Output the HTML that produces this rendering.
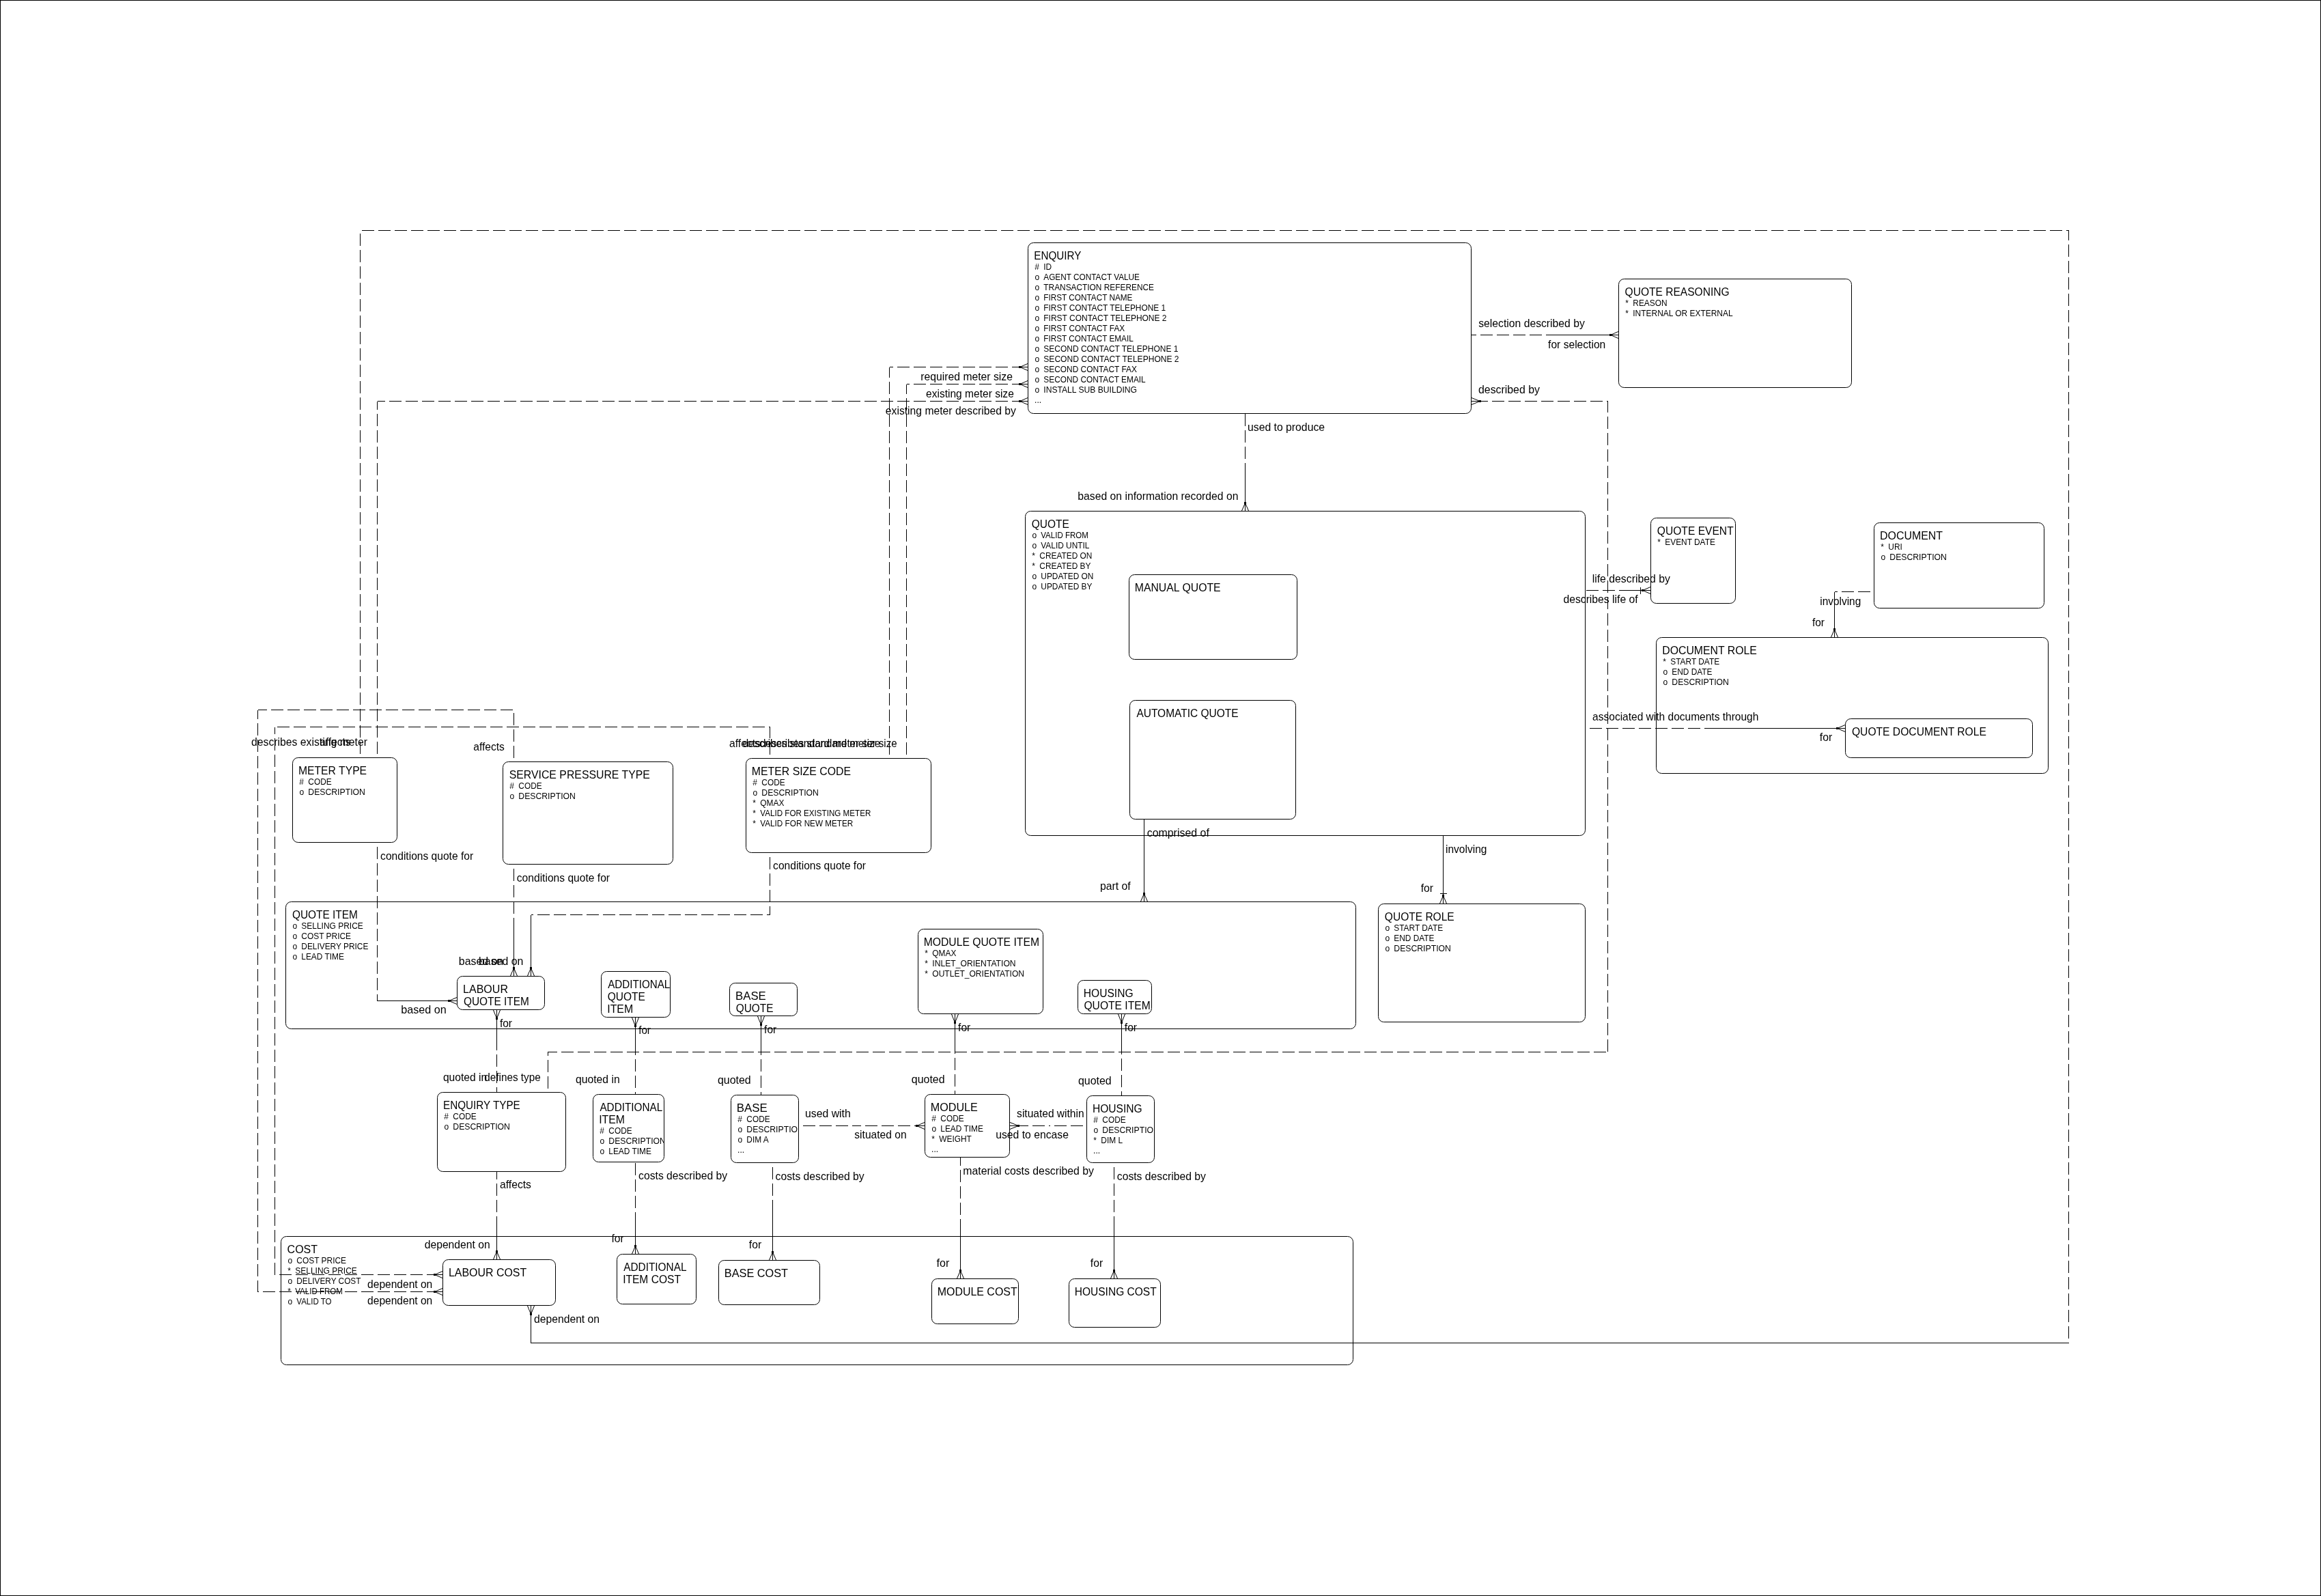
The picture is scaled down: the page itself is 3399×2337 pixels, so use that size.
<!DOCTYPE html>
<html><head><meta charset="utf-8"><title>ER diagram</title>
<style>
html,body{margin:0;padding:0;background:#fff}
svg{display:block;will-change:transform}
text{font-family:"Liberation Sans",sans-serif;fill:#000;white-space:pre}
.t{font-size:16px}
.a{font-size:12px}
rect,path{fill:none;stroke:#000;stroke-width:1}
path{shape-rendering:crispEdges}
.d{stroke-dasharray:18 6;stroke-dashoffset:18}
.c{shape-rendering:auto}
.dot{fill:#000;stroke:none}
.n{stroke:none}
</style></head><body>
<svg width="3399" height="2337" viewBox="0 0 3399 2337">
<rect x="0.5" y="0.5" width="3398" height="2336"/>
<g class="bx">
<rect x="1505.5" y="355.5" width="649" height="250" rx="8" ry="8"/>
<clipPath id="cENQ"><rect class="n" x="1506" y="356" width="648" height="249"/></clipPath><g clip-path="url(#cENQ)">
<text class="t" transform="translate(1514.26 380) scale(0.9507 1)">ENQUIRY</text>
<text class="a" transform="translate(1515.2 395) scale(1 1)">#</text>
<text class="a" transform="translate(1528.3 395) scale(0.992 1)">ID</text>
<text class="a" transform="translate(1515.6 410) scale(1 1)">o</text>
<text class="a" transform="translate(1528.3 410) scale(0.9839 1)">AGENT CONTACT VALUE</text>
<text class="a" transform="translate(1515.6 425) scale(1 1)">o</text>
<text class="a" transform="translate(1528.3 425) scale(0.9902 1)">TRANSACTION REFERENCE</text>
<text class="a" transform="translate(1515.6 440) scale(1 1)">o</text>
<text class="a" transform="translate(1528.3 440) scale(0.9817 1)">FIRST CONTACT NAME</text>
<text class="a" transform="translate(1515.6 455) scale(1 1)">o</text>
<text class="a" transform="translate(1528.3 455) scale(0.9916 1)">FIRST CONTACT TELEPHONE 1</text>
<text class="a" transform="translate(1515.6 470) scale(1 1)">o</text>
<text class="a" transform="translate(1528.3 470) scale(0.9994 1)">FIRST CONTACT TELEPHONE 2</text>
<text class="a" transform="translate(1515.6 485) scale(1 1)">o</text>
<text class="a" transform="translate(1528.3 485) scale(0.9858 1)">FIRST CONTACT FAX</text>
<text class="a" transform="translate(1515.6 500) scale(1 1)">o</text>
<text class="a" transform="translate(1528.3 500) scale(0.9819 1)">FIRST CONTACT EMAIL</text>
<text class="a" transform="translate(1515.6 515) scale(1 1)">o</text>
<text class="a" transform="translate(1528.3 515) scale(0.9995 1)">SECOND CONTACT TELEPHONE 1</text>
<text class="a" transform="translate(1515.6 530) scale(1 1)">o</text>
<text class="a" transform="translate(1528.3 530) scale(1.0066 1)">SECOND CONTACT TELEPHONE 2</text>
<text class="a" transform="translate(1515.6 545) scale(1 1)">o</text>
<text class="a" transform="translate(1528.3 545) scale(0.9949 1)">SECOND CONTACT FAX</text>
<text class="a" transform="translate(1515.6 560) scale(1 1)">o</text>
<text class="a" transform="translate(1528.3 560) scale(0.9907 1)">SECOND CONTACT EMAIL</text>
<text class="a" transform="translate(1515.6 575) scale(1 1)">o</text>
<text class="a" transform="translate(1528.3 575) scale(1.0105 1)">INSTALL SUB BUILDING</text>
<text class="a" transform="translate(1515.1 590) scale(1 1)">...</text>
</g>
<rect x="2370.5" y="408.5" width="341" height="159" rx="8" ry="8"/>
<clipPath id="cQR"><rect class="n" x="2371" y="409" width="340" height="158"/></clipPath><g clip-path="url(#cQR)">
<text class="t" transform="translate(2379.62 433) scale(0.973 1)">QUOTE REASONING</text>
<text class="a" transform="translate(2380.3 448) scale(1 1)">*</text>
<text class="a" transform="translate(2391.3 448) scale(0.992 1)">REASON</text>
<text class="a" transform="translate(2380.3 463) scale(1 1)">*</text>
<text class="a" transform="translate(2391.3 463) scale(0.9959 1)">INTERNAL OR EXTERNAL</text>
</g>
<rect x="1501.5" y="748.5" width="820" height="475" rx="8" ry="8"/>
<clipPath id="cQ"><rect class="n" x="1502" y="749" width="819" height="474"/></clipPath><g clip-path="url(#cQ)">
<text class="t" transform="translate(1510.72 773) scale(0.9676 1)">QUOTE</text>
<text class="a" transform="translate(1511.6 788) scale(1 1)">o</text>
<text class="a" transform="translate(1524.3 788) scale(0.9609 1)">VALID FROM</text>
<text class="a" transform="translate(1511.6 803) scale(1 1)">o</text>
<text class="a" transform="translate(1524.3 803) scale(0.992 1)">VALID UNTIL</text>
<text class="a" transform="translate(1511.3 818) scale(1 1)">*</text>
<text class="a" transform="translate(1522.3 818) scale(0.992 1)">CREATED ON</text>
<text class="a" transform="translate(1511.3 833) scale(1 1)">*</text>
<text class="a" transform="translate(1522.3 833) scale(0.992 1)">CREATED BY</text>
<text class="a" transform="translate(1511.6 848) scale(1 1)">o</text>
<text class="a" transform="translate(1524.3 848) scale(0.992 1)">UPDATED ON</text>
<text class="a" transform="translate(1511.6 863) scale(1 1)">o</text>
<text class="a" transform="translate(1524.3 863) scale(0.992 1)">UPDATED BY</text>
</g>
<rect x="1653.5" y="841.5" width="246" height="124" rx="8" ry="8"/>
<clipPath id="cMQ"><rect class="n" x="1654" y="842" width="245" height="123"/></clipPath><g clip-path="url(#cMQ)">
<text class="t" transform="translate(1661.71 866) scale(0.9888 1)">MANUAL QUOTE</text>
</g>
<rect x="1654.5" y="1025.5" width="243" height="174" rx="8" ry="8"/>
<clipPath id="cAQ"><rect class="n" x="1655" y="1026" width="242" height="173"/></clipPath><g clip-path="url(#cAQ)">
<text class="t" transform="translate(1664.4 1050) scale(0.9687 1)">AUTOMATIC QUOTE</text>
</g>
<rect x="2417.5" y="758.5" width="124" height="125" rx="8" ry="8"/>
<clipPath id="cQE"><rect class="n" x="2418" y="759" width="123" height="124"/></clipPath><g clip-path="url(#cQE)">
<text class="t" transform="translate(2426.82 783) scale(0.9763 1)">QUOTE EVENT</text>
<text class="a" transform="translate(2427.3 798) scale(1 1)">*</text>
<text class="a" transform="translate(2438.3 798) scale(0.992 1)">EVENT DATE</text>
</g>
<rect x="2744.5" y="765.5" width="249" height="125" rx="8" ry="8"/>
<clipPath id="cDOC"><rect class="n" x="2745" y="766" width="248" height="124"/></clipPath><g clip-path="url(#cDOC)">
<text class="t" transform="translate(2753 790) scale(0.9967 1)">DOCUMENT</text>
<text class="a" transform="translate(2754.3 805) scale(1 1)">*</text>
<text class="a" transform="translate(2765.3 805) scale(0.992 1)">URI</text>
<text class="a" transform="translate(2754.6 820) scale(1 1)">o</text>
<text class="a" transform="translate(2767.3 820) scale(1.02 1)">DESCRIPTION</text>
</g>
<rect x="2425.5" y="933.5" width="574" height="199" rx="8" ry="8"/>
<clipPath id="cDR"><rect class="n" x="2426" y="934" width="573" height="198"/></clipPath><g clip-path="url(#cDR)">
<text class="t" transform="translate(2434.21 958) scale(0.9899 1)">DOCUMENT ROLE</text>
<text class="a" transform="translate(2435.3 973) scale(1 1)">*</text>
<text class="a" transform="translate(2446.3 973) scale(0.992 1)">START DATE</text>
<text class="a" transform="translate(2435.6 988) scale(1 1)">o</text>
<text class="a" transform="translate(2448.3 988) scale(0.992 1)">END DATE</text>
<text class="a" transform="translate(2435.6 1003) scale(1 1)">o</text>
<text class="a" transform="translate(2448.3 1003) scale(1.02 1)">DESCRIPTION</text>
</g>
<rect x="2702.5" y="1052.5" width="274" height="57" rx="8" ry="8"/>
<clipPath id="cQDR"><rect class="n" x="2703" y="1053" width="273" height="56"/></clipPath><g clip-path="url(#cQDR)">
<text class="t" transform="translate(2711.92 1077) scale(0.9785 1)">QUOTE DOCUMENT ROLE</text>
</g>
<rect x="428.5" y="1109.5" width="153" height="124" rx="8" ry="8"/>
<clipPath id="cMT"><rect class="n" x="429" y="1110" width="152" height="123"/></clipPath><g clip-path="url(#cMT)">
<text class="t" transform="translate(436.92 1134) scale(0.983 1)">METER TYPE</text>
<text class="a" transform="translate(438.2 1149) scale(1 1)">#</text>
<text class="a" transform="translate(451.3 1149) scale(0.992 1)">CODE</text>
<text class="a" transform="translate(438.6 1164) scale(1 1)">o</text>
<text class="a" transform="translate(451.3 1164) scale(1.02 1)">DESCRIPTION</text>
</g>
<rect x="736.5" y="1115.5" width="249" height="150" rx="8" ry="8"/>
<clipPath id="cSPT"><rect class="n" x="737" y="1116" width="248" height="149"/></clipPath><g clip-path="url(#cSPT)">
<text class="t" transform="translate(745.71 1140) scale(0.9908 1)">SERVICE PRESSURE TYPE</text>
<text class="a" transform="translate(746.2 1155) scale(1 1)">#</text>
<text class="a" transform="translate(759.3 1155) scale(0.992 1)">CODE</text>
<text class="a" transform="translate(746.6 1170) scale(1 1)">o</text>
<text class="a" transform="translate(759.3 1170) scale(1.02 1)">DESCRIPTION</text>
</g>
<rect x="1092.5" y="1110.5" width="271" height="138" rx="8" ry="8"/>
<clipPath id="cMSC"><rect class="n" x="1093" y="1111" width="270" height="137"/></clipPath><g clip-path="url(#cMSC)">
<text class="t" transform="translate(1100.81 1135) scale(0.991 1)">METER SIZE CODE</text>
<text class="a" transform="translate(1102.2 1150) scale(1 1)">#</text>
<text class="a" transform="translate(1115.3 1150) scale(0.992 1)">CODE</text>
<text class="a" transform="translate(1102.6 1165) scale(1 1)">o</text>
<text class="a" transform="translate(1115.3 1165) scale(1.02 1)">DESCRIPTION</text>
<text class="a" transform="translate(1102.3 1180) scale(1 1)">*</text>
<text class="a" transform="translate(1113.3 1180) scale(0.992 1)">QMAX</text>
<text class="a" transform="translate(1102.3 1195) scale(1 1)">*</text>
<text class="a" transform="translate(1113.3 1195) scale(0.97 1)">VALID FOR EXISTING METER</text>
<text class="a" transform="translate(1102.3 1210) scale(1 1)">*</text>
<text class="a" transform="translate(1113.3 1210) scale(0.9791 1)">VALID FOR NEW METER</text>
</g>
<rect x="418.5" y="1320.5" width="1567" height="186" rx="8" ry="8"/>
<clipPath id="cQI"><rect class="n" x="419" y="1321" width="1566" height="185"/></clipPath><g clip-path="url(#cQI)">
<text class="t" transform="translate(427.93 1345) scale(0.9641 1)">QUOTE ITEM</text>
<text class="a" transform="translate(428.6 1360) scale(1 1)">o</text>
<text class="a" transform="translate(441.3 1360) scale(0.9989 1)">SELLING PRICE</text>
<text class="a" transform="translate(428.6 1375) scale(1 1)">o</text>
<text class="a" transform="translate(441.3 1375) scale(0.9958 1)">COST PRICE</text>
<text class="a" transform="translate(428.6 1390) scale(1 1)">o</text>
<text class="a" transform="translate(441.3 1390) scale(0.992 1)">DELIVERY PRICE</text>
<text class="a" transform="translate(428.6 1405) scale(1 1)">o</text>
<text class="a" transform="translate(441.3 1405) scale(0.992 1)">LEAD TIME</text>
</g>
<rect x="669.5" y="1429.5" width="128" height="49" rx="8" ry="8"/>
<clipPath id="cLQI"><rect class="n" x="670" y="1430" width="127" height="48"/></clipPath><g clip-path="url(#cLQI)">
<text class="t" transform="translate(678.1 1454) scale(1.0016 1)">LABOUR</text>
<text class="t" transform="translate(678.93 1472) scale(0.9641 1)">QUOTE ITEM</text>
</g>
<rect x="880.5" y="1422.5" width="101" height="67" rx="8" ry="8"/>
<clipPath id="cAQI"><rect class="n" x="881" y="1423" width="100" height="66"/></clipPath><g clip-path="url(#cAQI)">
<text class="t" transform="translate(890.2 1447) scale(0.9487 1)">ADDITIONAL</text>
<text class="t" transform="translate(889.72 1465) scale(0.9712 1)">QUOTE</text>
<text class="t" transform="translate(889.21 1483) scale(0.9944 1)">ITEM</text>
</g>
<rect x="1068.5" y="1439.5" width="99" height="48" rx="8" ry="8"/>
<clipPath id="cBQ"><rect class="n" x="1069" y="1440" width="98" height="47"/></clipPath><g clip-path="url(#cBQ)">
<text class="t" transform="translate(1077.04 1464) scale(1.0491 1)">BASE</text>
<text class="t" transform="translate(1077.73 1482) scale(0.9622 1)">QUOTE</text>
</g>
<rect x="1344.5" y="1360.5" width="183" height="124" rx="8" ry="8"/>
<clipPath id="cMQI"><rect class="n" x="1345" y="1361" width="182" height="123"/></clipPath><g clip-path="url(#cMQI)">
<text class="t" transform="translate(1352.72 1385) scale(0.9823 1)">MODULE QUOTE ITEM</text>
<text class="a" transform="translate(1354.3 1400) scale(1 1)">*</text>
<text class="a" transform="translate(1365.3 1400) scale(0.992 1)">QMAX</text>
<text class="a" transform="translate(1354.3 1415) scale(1 1)">*</text>
<text class="a" transform="translate(1365.3 1415) scale(1.0126 1)">INLET_ORIENTATION</text>
<text class="a" transform="translate(1354.3 1430) scale(1 1)">*</text>
<text class="a" transform="translate(1365.3 1430) scale(1.0045 1)">OUTLET_ORIENTATION</text>
</g>
<rect x="1578.5" y="1435.5" width="108" height="49" rx="8" ry="8"/>
<clipPath id="cHQI"><rect class="n" x="1579" y="1436" width="107" height="48"/></clipPath><g clip-path="url(#cHQI)">
<text class="t" transform="translate(1586.83 1460) scale(0.9737 1)">HOUSING</text>
<text class="t" transform="translate(1587.42 1478) scale(0.9785 1)">QUOTE ITEM</text>
</g>
<rect x="2018.5" y="1323.5" width="303" height="173" rx="8" ry="8"/>
<clipPath id="cQRO"><rect class="n" x="2019" y="1324" width="302" height="172"/></clipPath><g clip-path="url(#cQRO)">
<text class="t" transform="translate(2027.82 1348) scale(0.972 1)">QUOTE ROLE</text>
<text class="a" transform="translate(2028.6 1363) scale(1 1)">o</text>
<text class="a" transform="translate(2041.3 1363) scale(0.992 1)">START DATE</text>
<text class="a" transform="translate(2028.6 1378) scale(1 1)">o</text>
<text class="a" transform="translate(2041.3 1378) scale(0.992 1)">END DATE</text>
<text class="a" transform="translate(2028.6 1393) scale(1 1)">o</text>
<text class="a" transform="translate(2041.3 1393) scale(1.02 1)">DESCRIPTION</text>
</g>
<rect x="640.5" y="1599.5" width="188" height="116" rx="8" ry="8"/>
<clipPath id="cET"><rect class="n" x="641" y="1600" width="187" height="115"/></clipPath><g clip-path="url(#cET)">
<text class="t" transform="translate(648.96 1624) scale(0.9544 1)">ENQUIRY TYPE</text>
<text class="a" transform="translate(650.2 1639) scale(1 1)">#</text>
<text class="a" transform="translate(663.3 1639) scale(0.992 1)">CODE</text>
<text class="a" transform="translate(650.6 1654) scale(1 1)">o</text>
<text class="a" transform="translate(663.3 1654) scale(1.02 1)">DESCRIPTION</text>
</g>
<rect x="868.5" y="1602.5" width="104" height="99" rx="8" ry="8"/>
<clipPath id="cAI"><rect class="n" x="869" y="1603" width="103" height="98"/></clipPath><g clip-path="url(#cAI)">
<text class="t" transform="translate(878.4 1627) scale(0.9571 1)">ADDITIONAL</text>
<text class="t" transform="translate(877.21 1645) scale(0.9916 1)">ITEM</text>
<text class="a" transform="translate(878.2 1660) scale(1 1)">#</text>
<text class="a" transform="translate(891.3 1660) scale(0.992 1)">CODE</text>
<text class="a" transform="translate(878.6 1675) scale(1 1)">o</text>
<text class="a" transform="translate(891.3 1675) scale(1.02 1)">DESCRIPTION</text>
<text class="a" transform="translate(878.6 1690) scale(1 1)">o</text>
<text class="a" transform="translate(891.3 1690) scale(0.992 1)">LEAD TIME</text>
</g>
<rect x="1070.5" y="1603.5" width="99" height="99" rx="8" ry="8"/>
<clipPath id="cBA"><rect class="n" x="1071" y="1604" width="98" height="98"/></clipPath><g clip-path="url(#cBA)">
<text class="t" transform="translate(1078.73 1628) scale(1.0565 1)">BASE</text>
<text class="a" transform="translate(1080.2 1643) scale(1 1)">#</text>
<text class="a" transform="translate(1093.3 1643) scale(0.992 1)">CODE</text>
<text class="a" transform="translate(1080.6 1658) scale(1 1)">o</text>
<text class="a" transform="translate(1093.3 1658) scale(1.02 1)">DESCRIPTION</text>
<text class="a" transform="translate(1080.6 1673) scale(1 1)">o</text>
<text class="a" transform="translate(1093.3 1673) scale(0.992 1)">DIM A</text>
<text class="a" transform="translate(1080.1 1688) scale(1 1)">...</text>
</g>
<rect x="1354.5" y="1602.5" width="124" height="92" rx="8" ry="8"/>
<clipPath id="cMO"><rect class="n" x="1355" y="1603" width="123" height="91"/></clipPath><g clip-path="url(#cMO)">
<text class="t" transform="translate(1362.69 1627) scale(1.0105 1)">MODULE</text>
<text class="a" transform="translate(1364.2 1642) scale(1 1)">#</text>
<text class="a" transform="translate(1377.3 1642) scale(0.992 1)">CODE</text>
<text class="a" transform="translate(1364.6 1657) scale(1 1)">o</text>
<text class="a" transform="translate(1377.3 1657) scale(0.992 1)">LEAD TIME</text>
<text class="a" transform="translate(1364.3 1672) scale(1 1)">*</text>
<text class="a" transform="translate(1375.3 1672) scale(0.992 1)">WEIGHT</text>
<text class="a" transform="translate(1364.1 1687) scale(1 1)">...</text>
</g>
<rect x="1591.5" y="1604.5" width="99" height="98" rx="8" ry="8"/>
<clipPath id="cHO"><rect class="n" x="1592" y="1605" width="98" height="97"/></clipPath><g clip-path="url(#cHO)">
<text class="t" transform="translate(1599.93 1629) scale(0.9737 1)">HOUSING</text>
<text class="a" transform="translate(1601.2 1644) scale(1 1)">#</text>
<text class="a" transform="translate(1614.3 1644) scale(0.992 1)">CODE</text>
<text class="a" transform="translate(1601.6 1659) scale(1 1)">o</text>
<text class="a" transform="translate(1614.3 1659) scale(1.02 1)">DESCRIPTION</text>
<text class="a" transform="translate(1601.3 1674) scale(1 1)">*</text>
<text class="a" transform="translate(1612.3 1674) scale(0.992 1)">DIM L</text>
<text class="a" transform="translate(1601.1 1689) scale(1 1)">...</text>
</g>
<rect x="411.5" y="1810.5" width="1570" height="188" rx="8" ry="8"/>
<clipPath id="cCO"><rect class="n" x="412" y="1811" width="1569" height="187"/></clipPath><g clip-path="url(#cCO)">
<text class="t" transform="translate(420.6 1835) scale(1.0 1)">COST</text>
<text class="a" transform="translate(421.6 1850) scale(1 1)">o</text>
<text class="a" transform="translate(434.3 1850) scale(0.9958 1)">COST PRICE</text>
<text class="a" transform="translate(421.3 1865) scale(1 1)">*</text>
<text class="a" transform="translate(432.3 1865) scale(0.9989 1)">SELLING PRICE</text>
<text class="a" transform="translate(421.6 1880) scale(1 1)">o</text>
<text class="a" transform="translate(434.3 1880) scale(0.9852 1)">DELIVERY COST</text>
<text class="a" transform="translate(421.3 1895) scale(1 1)">*</text>
<text class="a" transform="translate(432.3 1895) scale(0.9609 1)">VALID FROM</text>
<text class="a" transform="translate(421.6 1910) scale(1 1)">o</text>
<text class="a" transform="translate(434.3 1910) scale(0.9621 1)">VALID TO</text>
</g>
<rect x="648.5" y="1844.5" width="165" height="67" rx="8" ry="8"/>
<clipPath id="cLC"><rect class="n" x="649" y="1845" width="164" height="66"/></clipPath><g clip-path="url(#cLC)">
<text class="t" transform="translate(656.9 1869) scale(0.9965 1)">LABOUR COST</text>
</g>
<rect x="903.5" y="1836.5" width="116" height="73" rx="8" ry="8"/>
<clipPath id="cAIC"><rect class="n" x="904" y="1837" width="115" height="72"/></clipPath><g clip-path="url(#cAIC)">
<text class="t" transform="translate(913.3 1861) scale(0.9602 1)">ADDITIONAL</text>
<text class="t" transform="translate(912.14 1879) scale(0.9742 1)">ITEM COST</text>
</g>
<rect x="1052.5" y="1845.5" width="148" height="65" rx="8" ry="8"/>
<clipPath id="cBC"><rect class="n" x="1053" y="1846" width="147" height="64"/></clipPath><g clip-path="url(#cBC)">
<text class="t" transform="translate(1060.78 1870) scale(1.0189 1)">BASE COST</text>
</g>
<rect x="1364.5" y="1872.5" width="127" height="66" rx="8" ry="8"/>
<clipPath id="cMC"><rect class="n" x="1365" y="1873" width="126" height="65"/></clipPath><g clip-path="url(#cMC)">
<text class="t" transform="translate(1372.7 1897) scale(0.9974 1)">MODULE COST</text>
</g>
<rect x="1565.5" y="1872.5" width="134" height="71" rx="8" ry="8"/>
<clipPath id="cHC"><rect class="n" x="1566" y="1873" width="133" height="70"/></clipPath><g clip-path="url(#cHC)">
<text class="t" transform="translate(1573.74 1897) scale(0.9713 1)">HOUSING COST</text>
</g>
</g>
<g class="ln">
<path class="d" d="M1823.5 678 L1823.5 605.5"/>
<path d="M1823.5 748.5 L1823.5 678"/>
<path class="c" d="M1828.7 748.5 L1823.5 736.5 L1818.3 748.5"/>
<path d="M1823.5 748.5 L1823.5 736.5"/>
<rect class="dot" x="1822" y="735" width="3" height="3"/>
<path class="d" d="M2263.5 490.5 L2154.5 490.5"/>
<path d="M2370.5 490.5 L2263.5 490.5"/>
<path class="c" d="M2370.5 485.3 L2358.5 490.5 L2370.5 495.7"/>
<path d="M2370.5 490.5 L2358.5 490.5"/>
<rect class="dot" x="2357" y="489" width="3" height="3"/>
<path class="d" d="M2154.5 587.5 L2354.5 587.5 L2354.5 1540.5"/>
<path class="d" d="M802.5 1599.5 L802.5 1540.5 L2354.5 1540.5"/>
<path class="c" d="M2154.5 592.7 L2167.5 587.5 L2154.5 582.3"/>
<path d="M2154.5 587.5 L2167.5 587.5"/>
<rect class="dot" x="2166" y="586" width="3" height="3"/>
<path class="d" d="M1505.5 537.5 L1302.5 537.5"/>
<path class="d" d="M1302.5 1110.5 L1302.5 537.5"/>
<path class="c" d="M1505.5 532.3 L1493.5 537.5 L1505.5 542.7"/>
<path d="M1505.5 537.5 L1493.5 537.5"/>
<rect class="dot" x="1492" y="536" width="3" height="3"/>
<path class="d" d="M1505.5 562.5 L1327.5 562.5"/>
<path class="d" d="M1327.5 1110.5 L1327.5 562.5"/>
<path class="c" d="M1505.5 557.3 L1493.5 562.5 L1505.5 567.7"/>
<path d="M1505.5 562.5 L1493.5 562.5"/>
<rect class="dot" x="1492" y="561" width="3" height="3"/>
<path class="d" d="M1505.5 587.5 L552.5 587.5"/>
<path class="d" d="M552.5 1109.5 L552.5 587.5"/>
<path class="c" d="M1505.5 582.3 L1493.5 587.5 L1505.5 592.7"/>
<path d="M1505.5 587.5 L1493.5 587.5"/>
<rect class="dot" x="1492" y="586" width="3" height="3"/>
<path class="d" d="M527.5 1109.5 L527.5 337.5 L3029.5 337.5 L3029.5 1966.5"/>
<path d="M3029.5 1966.5 L777.5 1966.5 L777.5 1911.5"/>
<path class="c" d="M772.3 1911.5 L777.5 1924.5 L782.7 1911.5"/>
<path d="M777.5 1911.5 L777.5 1924.5"/>
<rect class="dot" x="776" y="1923" width="3" height="3"/>
<path class="d" d="M752.5 1115.5 L752.5 1039.5 L377.5 1039.5"/>
<path class="d" d="M648.5 1891.5 L377.5 1891.5 L377.5 1039.5"/>
<path class="c" d="M648.5 1886.3 L636.5 1891.5 L648.5 1896.7"/>
<path d="M648.5 1891.5 L636.5 1891.5"/>
<rect class="dot" x="635" y="1890" width="3" height="3"/>
<path class="d" d="M1127.5 1110.5 L1127.5 1064.5 L402.5 1064.5"/>
<path class="d" d="M648.5 1866.5 L402.5 1866.5 L402.5 1064.5"/>
<path class="c" d="M648.5 1861.3 L636.5 1866.5 L648.5 1871.7"/>
<path d="M648.5 1866.5 L636.5 1866.5"/>
<rect class="dot" x="635" y="1865" width="3" height="3"/>
<path class="d" d="M552.5 1233.5 L552.5 1465.5"/>
<path d="M552.5 1465.5 L669.5 1465.5"/>
<path class="c" d="M669.5 1460.3 L657.5 1465.5 L669.5 1470.7"/>
<path d="M669.5 1465.5 L657.5 1465.5"/>
<rect class="dot" x="656" y="1464" width="3" height="3"/>
<path class="d" d="M752.5 1265.5 L752.5 1346.5"/>
<path d="M752.5 1346.5 L752.5 1429.5"/>
<path class="c" d="M757.7 1429.5 L752.5 1417.5 L747.3 1429.5"/>
<path d="M752.5 1429.5 L752.5 1417.5"/>
<rect class="dot" x="751" y="1416" width="3" height="3"/>
<path class="d" d="M1127.5 1248.5 L1127.5 1339.5 L777.5 1339.5"/>
<path d="M777.5 1339.5 L777.5 1429.5"/>
<path class="c" d="M782.7 1429.5 L777.5 1417.5 L772.3 1429.5"/>
<path d="M777.5 1429.5 L777.5 1417.5"/>
<rect class="dot" x="776" y="1416" width="3" height="3"/>
<path class="d" d="M2370.5 864.5 L2321.5 864.5"/>
<path d="M2417.5 864.5 L2370.5 864.5"/>
<path class="c" d="M2417.5 859.3 L2405.5 864.5 L2417.5 869.7"/>
<path d="M2417.5 864.5 L2405.5 864.5"/>
<rect class="dot" x="2404" y="863" width="3" height="3"/>
<path d="M2402.5 859.5 L2402.5 869.5"/>
<path class="d" d="M2744.5 866.5 L2686.5 866.5"/>
<path d="M2686.5 866.5 L2686.5 933.5"/>
<path class="c" d="M2691.7 933.5 L2686.5 921.5 L2681.3 933.5"/>
<path d="M2686.5 933.5 L2686.5 921.5"/>
<rect class="dot" x="2685" y="920" width="3" height="3"/>
<path class="d" d="M2321.5 1066.5 L2511 1066.5"/>
<path d="M2511 1066.5 L2702.5 1066.5"/>
<path class="c" d="M2702.5 1061.3 L2690.5 1066.5 L2702.5 1071.7"/>
<path d="M2702.5 1066.5 L2690.5 1066.5"/>
<rect class="dot" x="2689" y="1065" width="3" height="3"/>
<path d="M1675.5 1199.5 L1675.5 1320.5"/>
<path class="c" d="M1680.7 1320.5 L1675.5 1308.5 L1670.3 1320.5"/>
<path d="M1675.5 1320.5 L1675.5 1308.5"/>
<rect class="dot" x="1674" y="1307" width="3" height="3"/>
<path d="M2113.5 1223.5 L2113.5 1323.5"/>
<path class="c" d="M2118.7 1323.5 L2113.5 1311.5 L2108.3 1323.5"/>
<path d="M2113.5 1323.5 L2113.5 1311.5"/>
<rect class="dot" x="2112" y="1310" width="3" height="3"/>
<path d="M2118.5 1308.5 L2108.5 1308.5"/>
<path d="M727.5 1478.5 L727.5 1538"/>
<path class="d" d="M727.5 1538 L727.5 1599.5"/>
<path class="c" d="M722.3 1478.5 L727.5 1491.5 L732.7 1478.5"/>
<path d="M727.5 1478.5 L727.5 1491.5"/>
<rect class="dot" x="726" y="1490" width="3" height="3"/>
<path d="M930.5 1489.5 L930.5 1545"/>
<path class="d" d="M930.5 1545 L930.5 1602.5"/>
<path class="c" d="M925.3 1489.5 L930.5 1502.5 L935.7 1489.5"/>
<path d="M930.5 1489.5 L930.5 1502.5"/>
<rect class="dot" x="929" y="1501" width="3" height="3"/>
<path d="M1114.5 1487.5 L1114.5 1544.5"/>
<path class="d" d="M1114.5 1544.5 L1114.5 1603.5"/>
<path class="c" d="M1109.3 1487.5 L1114.5 1500.5 L1119.7 1487.5"/>
<path d="M1114.5 1487.5 L1114.5 1500.5"/>
<rect class="dot" x="1113" y="1499" width="3" height="3"/>
<path d="M1398.5 1484.5 L1398.5 1542.5"/>
<path class="d" d="M1398.5 1542.5 L1398.5 1602.5"/>
<path class="c" d="M1393.3 1484.5 L1398.5 1497.5 L1403.7 1484.5"/>
<path d="M1398.5 1484.5 L1398.5 1497.5"/>
<rect class="dot" x="1397" y="1496" width="3" height="3"/>
<path d="M1642.5 1484.5 L1642.5 1543.5"/>
<path class="d" d="M1642.5 1543.5 L1642.5 1604.5"/>
<path class="c" d="M1637.3 1484.5 L1642.5 1497.5 L1647.7 1484.5"/>
<path d="M1642.5 1484.5 L1642.5 1497.5"/>
<rect class="dot" x="1641" y="1496" width="3" height="3"/>
<path class="d" d="M727.5 1781 L727.5 1715.5"/>
<path d="M727.5 1844.5 L727.5 1781"/>
<path class="c" d="M732.7 1844.5 L727.5 1832.5 L722.3 1844.5"/>
<path d="M727.5 1844.5 L727.5 1832.5"/>
<rect class="dot" x="726" y="1831" width="3" height="3"/>
<path class="d" d="M930.5 1774.8 L930.5 1701.5"/>
<path d="M930.5 1836.5 L930.5 1774.8"/>
<path class="c" d="M935.7 1836.5 L930.5 1824.5 L925.3 1836.5"/>
<path d="M930.5 1836.5 L930.5 1824.5"/>
<rect class="dot" x="929" y="1823" width="3" height="3"/>
<path class="d" d="M1131.5 1702.5 L1131.5 1773"/>
<path d="M1131.5 1773 L1131.5 1845.5"/>
<path class="c" d="M1136.7 1845.5 L1131.5 1833.5 L1126.3 1845.5"/>
<path d="M1131.5 1845.5 L1131.5 1833.5"/>
<rect class="dot" x="1130" y="1832" width="3" height="3"/>
<path class="d" d="M1406.5 1784.5 L1406.5 1694.5"/>
<path d="M1406.5 1872.5 L1406.5 1784.5"/>
<path class="c" d="M1411.7 1872.5 L1406.5 1860.5 L1401.3 1872.5"/>
<path d="M1406.5 1872.5 L1406.5 1860.5"/>
<rect class="dot" x="1405" y="1859" width="3" height="3"/>
<path class="d" d="M1631.5 1702.5 L1631.5 1786.5"/>
<path d="M1631.5 1786.5 L1631.5 1872.5"/>
<path class="c" d="M1636.7 1872.5 L1631.5 1860.5 L1626.3 1872.5"/>
<path d="M1631.5 1872.5 L1631.5 1860.5"/>
<rect class="dot" x="1630" y="1859" width="3" height="3"/>
<path class="d" d="M1169.5 1648.5 L1261 1648.5"/>
<path class="d" d="M1261 1648.5 L1354.5 1648.5"/>
<path class="c" d="M1354.5 1643.3 L1342.5 1648.5 L1354.5 1653.7"/>
<path d="M1354.5 1648.5 L1342.5 1648.5"/>
<rect class="dot" x="1341" y="1647" width="3" height="3"/>
<path class="d" d="M1536 1648.5 L1478.5 1648.5"/>
<path class="d" d="M1591.5 1648.5 L1536 1648.5"/>
<path class="c" d="M1478.5 1653.7 L1491.5 1648.5 L1478.5 1643.3"/>
<path d="M1478.5 1648.5 L1491.5 1648.5"/>
<rect class="dot" x="1490" y="1647" width="3" height="3"/>
</g>
<g class="lb">
<text class="t" transform="translate(1827.01 631.3) scale(0.9859 1)">used to produce</text>
<text class="t" transform="translate(1578.32 732) scale(0.9831 1)">based on information recorded on</text>
<text class="t" transform="translate(2165.21 479.3) scale(0.9835 1)">selection described by</text>
<text class="t" transform="translate(2267.1 510.3) scale(0.9765 1)">for selection</text>
<text class="t" transform="translate(2165 576.1) scale(0.9922 1)">described by</text>
<text class="t" transform="translate(1348.32 556.6) scale(0.9837 1)">required meter size</text>
<text class="t" transform="translate(1356.02 581.7) scale(0.9733 1)">existing meter size</text>
<text class="t" transform="translate(1296.81 606.7) scale(0.982 1)">existing meter described by</text>
<text class="t" transform="translate(2331.71 852.6) scale(0.9878 1)">life described by</text>
<text class="t" transform="translate(2289.41 883.4) scale(0.9837 1)">describes life of</text>
<text class="t" transform="translate(2665.24 885.8) scale(0.9635 1)">involving</text>
<text class="t" transform="translate(2653.91 916.5) scale(0.967 1)">for</text>
<text class="t" transform="translate(2332.12 1054.6) scale(0.9707 1)">associated with documents through</text>
<text class="t" transform="translate(2664.8 1085.4) scale(0.989 1)">for</text>
<text class="t" transform="translate(1679.7 1224.5) scale(0.9956 1)">comprised of</text>
<text class="t" transform="translate(2117.03 1248.8) scale(0.9701 1)">involving</text>
<text class="t" transform="translate(1611.01 1303.4) scale(0.9865 1)">part of</text>
<text class="t" transform="translate(2080.7 1306.2) scale(0.9835 1)">for</text>
<text class="t" transform="translate(368.01 1092.4) scale(0.9854 1)">describes existing meter</text>
<text class="t" transform="translate(468.32 1092.4) scale(0.9628 1)">affects</text>
<text class="t" transform="translate(693.22 1098.6) scale(0.9737 1)">affects</text>
<text class="t" transform="translate(1068.11 1093.8) scale(0.9759 1)">affects</text>
<text class="t" transform="translate(1087.73 1093.8) scale(0.9439 1)">describes standard meter size</text>
<text class="t" transform="translate(1112.94 1093.8) scale(0.9415 1)">describes standard meter size</text>
<text class="t" transform="translate(557.12 1258.7) scale(0.9748 1)">conditions quote for</text>
<text class="t" transform="translate(756.81 1290.6) scale(0.9762 1)">conditions quote for</text>
<text class="t" transform="translate(1132.12 1273.4) scale(0.9741 1)">conditions quote for</text>
<text class="t" transform="translate(671.81 1412.9) scale(0.9922 1)">based on</text>
<text class="t" transform="translate(701.01 1412.9) scale(0.9922 1)">based on</text>
<text class="t" transform="translate(587.19 1484) scale(1.011 1)">based on</text>
<text class="t" transform="translate(731.91 1503.7) scale(0.9725 1)">for</text>
<text class="t" transform="translate(935.21 1514.3) scale(0.9451 1)">for</text>
<text class="t" transform="translate(1119.11 1512.5) scale(0.967 1)">for</text>
<text class="t" transform="translate(1403.11 1509.5) scale(0.9725 1)">for</text>
<text class="t" transform="translate(1646.81 1509.5) scale(0.9725 1)">for</text>
<text class="t" transform="translate(648.91 1582.9) scale(0.9782 1)">quoted in</text>
<text class="t" transform="translate(709.23 1582.9) scale(0.9565 1)">defines type</text>
<text class="t" transform="translate(843.01 1585.5) scale(0.9829 1)">quoted in</text>
<text class="t" transform="translate(1050.9 1586.9) scale(0.9979 1)">quoted</text>
<text class="t" transform="translate(1334.8 1586.2) scale(0.9979 1)">quoted</text>
<text class="t" transform="translate(1578.9 1587.9) scale(0.9979 1)">quoted</text>
<text class="t" transform="translate(1179.01 1635.8) scale(0.9878 1)">used with</text>
<text class="t" transform="translate(1251.31 1667.2) scale(0.9766 1)">situated on</text>
<text class="t" transform="translate(1489.11 1635.8) scale(0.972 1)">situated within</text>
<text class="t" transform="translate(1458.22 1667.2) scale(0.9841 1)">used to encase</text>
<text class="t" transform="translate(732.01 1740.3) scale(0.982 1)">affects</text>
<text class="t" transform="translate(935.11 1726.5) scale(0.982 1)">costs described by</text>
<text class="t" transform="translate(1135.61 1727.5) scale(0.982 1)">costs described by</text>
<text class="t" transform="translate(1410.31 1719.6) scale(0.9896 1)">material costs described by</text>
<text class="t" transform="translate(1635.81 1727.5) scale(0.982 1)">costs described by</text>
<text class="t" transform="translate(621.71 1827.5) scale(0.9813 1)">dependent on</text>
<text class="t" transform="translate(895.5 1818.8) scale(0.982 1)">for</text>
<text class="t" transform="translate(1096.8 1827.8) scale(0.982 1)">for</text>
<text class="t" transform="translate(1371.6 1855.3) scale(1.0 1)">for</text>
<text class="t" transform="translate(1596.8 1855.3) scale(0.9835 1)">for</text>
<text class="t" transform="translate(538.12 1885.5) scale(0.973 1)">dependent on</text>
<text class="t" transform="translate(538.12 1910.4) scale(0.973 1)">dependent on</text>
<text class="t" transform="translate(782.01 1936.7) scale(0.982 1)">dependent on</text>
</g>
</svg>
</body></html>
